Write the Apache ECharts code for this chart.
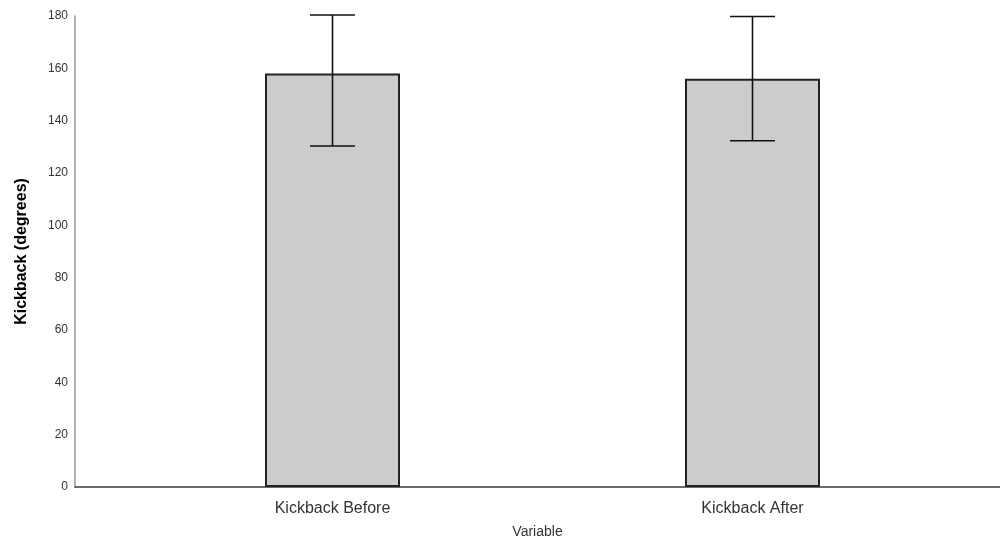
<!DOCTYPE html>
<html>
<head>
<meta charset="utf-8">
<script src="https://cdn.jsdelivr.net/npm/echarts@6/dist/echarts.min.js"></script>
<style>html,body{margin:0;padding:0;background:#fff}#c{width:1000px;height:544px}</style>
</head>
<body>
<div id="c"></div>
<script>
const categories = ['Kickback Before', 'Kickback After'];
const means = [158.0, 156.0];
const errLow = [130.3, 132.3];
const errHigh = [180.4, 179.8];
const yTicks = { min: 0, max: 180, interval: 20 };

const chart = echarts.init(document.getElementById('c'), null, { renderer: 'canvas' });
const font = 'Arial, "Liberation Sans", sans-serif';
chart.setOption({
  animation: false,
  grid: [
    { left: 122.5, right: 37.5, top: 16, bottom: 57, outerBoundsMode: 'none', containLabel: false },
    { left: 75, right: 0, top: 16, bottom: 57, outerBoundsMode: 'none', containLabel: false }
  ],
  xAxis: [
    {
      type: 'category', gridIndex: 0, data: categories,
      axisLine: { show: false }, axisTick: { show: false },
      axisLabel: { fontFamily: font, fontSize: 16, color: '#333', margin: 14 }
    },
    {
      type: 'value', gridIndex: 1, min: 0, max: 1,
      axisLine: { show: true, lineStyle: { color: '#3c3c3c', width: 1.5 } },
      axisTick: { show: false }, axisLabel: { show: false }, splitLine: { show: false },
      name: 'Variable', nameLocation: 'middle', nameGap: 38,
      nameTextStyle: { fontFamily: font, fontSize: 14, color: '#333' }
    }
  ],
  yAxis: [
    {
      type: 'value', gridIndex: 0, min: yTicks.min, max: yTicks.max, interval: yTicks.interval,
      show: false, splitLine: { show: false }
    },
    {
      type: 'value', gridIndex: 1, min: yTicks.min, max: yTicks.max, interval: yTicks.interval,
      axisLine: { show: true, lineStyle: { color: '#999', width: 1.5 } },
      axisTick: { show: false }, splitLine: { show: false },
      axisLabel: { fontFamily: font, fontSize: 12, color: '#333', margin: 7 },
      name: 'Kickback (degrees)', nameLocation: 'middle', nameGap: 45,
      nameTextStyle: { fontFamily: font, fontSize: 16, fontWeight: 'bold', color: '#000' }
    }
  ],
  series: [
    {
      type: 'bar', xAxisIndex: 0, yAxisIndex: 0, data: means, barWidth: 135,
      itemStyle: { color: '#cccccc', borderColor: '#222', borderWidth: 2 }
    },
    {
      type: 'custom', xAxisIndex: 0, yAxisIndex: 0,
      data: categories.map((c, i) => [i, errLow[i], errHigh[i]]),
      renderItem: function (params, api) {
        const lo = api.coord([api.value(0), api.value(1)]);
        const hi = api.coord([api.value(0), api.value(2)]);
        const hw = 22.5;
        const style = { stroke: '#111', lineWidth: 1.6, fill: null };
        return {
          type: 'group',
          children: [
            { type: 'line', shape: { x1: lo[0], y1: lo[1], x2: hi[0], y2: hi[1] }, style },
            { type: 'line', shape: { x1: lo[0] - hw, y1: lo[1], x2: lo[0] + hw, y2: lo[1] }, style },
            { type: 'line', shape: { x1: hi[0] - hw, y1: hi[1], x2: hi[0] + hw, y2: hi[1] }, style }
          ]
        };
      },
      z: 10
    }
  ]
});
</script>
</body>
</html>
